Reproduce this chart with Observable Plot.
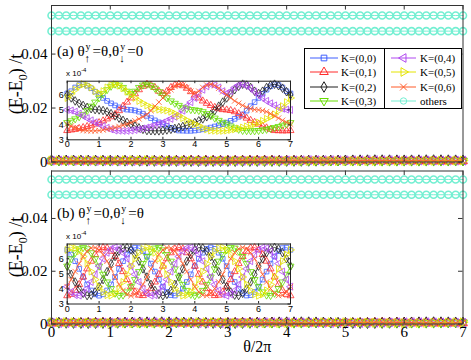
<!DOCTYPE html>
<html><head><meta charset="utf-8">
<script src="https://cdn.jsdelivr.net/npm/d3@7"></script>
<script src="https://cdn.jsdelivr.net/npm/@observablehq/plot@0.6"></script>
<style>
body{margin:0;background:#fff}
#fig{position:relative;width:471px;height:360px;overflow:hidden;font-family:"Liberation Serif",serif;color:#000;background:#fff}
#fig > *{position:absolute}
.st{display:inline-block;position:relative;width:8px;height:0;vertical-align:baseline}
.st .u{position:absolute;left:1px;top:-14px;font-size:10px;line-height:10px}
.st .d{position:absolute;left:0;top:-3px;font-size:11px;line-height:11px}
.ylab{width:120px;height:24px;line-height:24px;text-align:center;font-size:18px;transform:rotate(-90deg);white-space:nowrap}
.ylab sub{font-size:12px}
.sci{font-family:"Liberation Sans",sans-serif;font-size:8px;white-space:nowrap}
.sci sup{font-size:6px}
.ann{font-size:15px;white-space:nowrap;line-height:20px}
.legend{border:1px solid #000;background:#fff;box-sizing:border-box}
.legend .e{position:absolute;font-size:11px;line-height:12px;white-space:nowrap}
</style></head><body><div id="fig"></div>
<script>
// ---------- data ----------
const theta = [0,0.125,0.25,0.375,0.5,0.625,0.75,0.875,1,1.125,1.25,1.375,1.5,1.625,1.75,1.875,2,2.125,2.25,2.375,2.5,2.625,2.75,2.875,3,3.125,3.25,3.375,3.5,3.625,3.75,3.875,4,4.125,4.25,4.375,4.5,4.625,4.75,4.875,5,5.125,5.25,5.375,5.5,5.625,5.75,5.875,6,6.125,6.25,6.375,6.5,6.625,6.75,6.875,7];
const kLabels = ["K=(0,0)","K=(0,1)","K=(0,2)","K=(0,3)","K=(0,4)","K=(0,5)","K=(0,6)"];
const othersLabel = "others";

// panel (a) inset, (E-E0)/t in units of 1e-4
const aK0 = [6.10,6.25,6.50,6.66,6.72,6.62,6.45,6.22, 6.00,5.80,5.60,5.44,5.30,5.17,5.08,5.02,5.00,4.96,4.88,4.75, 4.60,4.45,4.30,4.17,4.05,3.92,3.80,3.70, 3.62,3.61,3.60,3.60,3.62,3.66,3.70,3.76,3.82,3.89,3.97,4.05, 4.15,4.27,4.40,4.54,4.70,4.95,5.25,5.52,5.80,6.08,6.35,6.58, 6.72,6.66,6.50,6.25,6.10];
const aK1 = [3.62,3.66,3.70,3.76,3.82,3.89,3.97,4.05, 4.15,4.27,4.40,4.54,4.70,4.95,5.25,5.52,5.80,6.08,6.35,6.58, 6.72,6.66,6.50,6.25,6.10,6.25,6.50,6.66,6.72,6.62,6.45,6.22, 6.00,5.80,5.60,5.44,5.30,5.17,5.08,5.02,5.00,4.96,4.88,4.75, 4.60,4.45,4.30,4.17,4.05,3.92,3.80,3.70, 3.62,3.61,3.60,3.60,3.62];
const aK2 = [6.00,5.80,5.60,5.44,5.30,5.17,5.08,5.02,5.00,4.96,4.88,4.75, 4.60,4.45,4.30,4.17,4.05,3.92,3.80,3.70, 3.62,3.61,3.60,3.60,3.62,3.66,3.70,3.76,3.82,3.89,3.97,4.05, 4.15,4.27,4.40,4.54,4.70,4.95,5.25,5.52,5.80,6.08,6.35,6.58, 6.72,6.66,6.50,6.25,6.10,6.25,6.50,6.66,6.72,6.62,6.45,6.22, 6.00];
const aK3 = [4.15,4.27,4.40,4.54,4.70,4.95,5.25,5.52,5.80,6.08,6.35,6.58, 6.72,6.66,6.50,6.25,6.10,6.25,6.50,6.66,6.72,6.62,6.45,6.22, 6.00,5.80,5.60,5.44,5.30,5.17,5.08,5.02,5.00,4.96,4.88,4.75, 4.60,4.45,4.30,4.17,4.05,3.92,3.80,3.70, 3.62,3.61,3.60,3.60,3.62,3.66,3.70,3.76,3.82,3.89,3.97,4.05, 4.15];
const aK4 = [5.00,4.96,4.88,4.75, 4.60,4.45,4.30,4.17,4.05,3.92,3.80,3.70, 3.62,3.61,3.60,3.60,3.62,3.66,3.70,3.76,3.82,3.89,3.97,4.05, 4.15,4.27,4.40,4.54,4.70,4.95,5.25,5.52,5.80,6.08,6.35,6.58, 6.72,6.66,6.50,6.25,6.10,6.25,6.50,6.66,6.72,6.62,6.45,6.22, 6.00,5.80,5.60,5.44,5.30,5.17,5.08,5.02,5.00];
const aK5 = [5.80,6.08,6.35,6.58, 6.72,6.66,6.50,6.25,6.10,6.25,6.50,6.66,6.72,6.62,6.45,6.22, 6.00,5.80,5.60,5.44,5.30,5.17,5.08,5.02,5.00,4.96,4.88,4.75, 4.60,4.45,4.30,4.17,4.05,3.92,3.80,3.70, 3.62,3.61,3.60,3.60,3.62,3.66,3.70,3.76,3.82,3.89,3.97,4.05, 4.15,4.27,4.40,4.54,4.70,4.95,5.25,5.52,5.80];
const aK6 = [4.05,3.92,3.80,3.70, 3.62,3.61,3.60,3.60,3.62,3.66,3.70,3.76,3.82,3.89,3.97,4.05, 4.15,4.27,4.40,4.54,4.70,4.95,5.25,5.52,5.80,6.08,6.35,6.58, 6.72,6.66,6.50,6.25,6.10,6.25,6.50,6.66,6.72,6.62,6.45,6.22, 6.00,5.80,5.60,5.44,5.30,5.17,5.08,5.02,5.00,4.96,4.88,4.75, 4.60,4.45,4.30,4.17,4.05];

// panel (b) inset, units of 1e-4
const bK0 = [6.59,6.28,5.84,5.33,4.79,4.30,3.90,3.64, 3.55,3.64,3.90,4.30,4.79,5.33,5.84,6.28, 6.59,6.74,6.71,6.50,6.15,5.68,5.15,4.62, 4.15,3.80,3.59,3.56,3.71,4.02,4.46,4.97, 5.51,6.00,6.40,6.66,6.75,6.66,6.40,6.00, 5.51,4.97,4.46,4.02,3.71,3.56,3.59,3.80, 4.15,4.62,5.15,5.68,6.15,6.50,6.71,6.74, 6.59];
const bK1 = [3.55,3.64,3.90,4.30,4.79,5.33,5.84,6.28, 6.59,6.74,6.71,6.50,6.15,5.68,5.15,4.62, 4.15,3.80,3.59,3.56,3.71,4.02,4.46,4.97, 5.51,6.00,6.40,6.66,6.75,6.66,6.40,6.00, 5.51,4.97,4.46,4.02,3.71,3.56,3.59,3.80, 4.15,4.62,5.15,5.68,6.15,6.50,6.71,6.74, 6.59,6.28,5.84,5.33,4.79,4.30,3.90,3.64, 3.55];
const bK2 = [5.51,4.97,4.46,4.02,3.71,3.56,3.59,3.80, 4.15,4.62,5.15,5.68,6.15,6.50,6.71,6.74, 6.59,6.28,5.84,5.33,4.79,4.30,3.90,3.64, 3.55,3.64,3.90,4.30,4.79,5.33,5.84,6.28, 6.59,6.74,6.71,6.50,6.15,5.68,5.15,4.62, 4.15,3.80,3.59,3.56,3.71,4.02,4.46,4.97, 5.51,6.00,6.40,6.66,6.75,6.66,6.40,6.00, 5.51];
const bK3 = [5.51,6.00,6.40,6.66,6.75,6.66,6.40,6.00, 5.51,4.97,4.46,4.02,3.71,3.56,3.59,3.80, 4.15,4.62,5.15,5.68,6.15,6.50,6.71,6.74, 6.59,6.28,5.84,5.33,4.79,4.30,3.90,3.64, 3.55,3.64,3.90,4.30,4.79,5.33,5.84,6.28, 6.59,6.74,6.71,6.50,6.15,5.68,5.15,4.62, 4.15,3.80,3.59,3.56,3.71,4.02,4.46,4.97, 5.51];
const bK4 = [4.15,3.80,3.59,3.56,3.71,4.02,4.46,4.97, 5.51,6.00,6.40,6.66,6.75,6.66,6.40,6.00, 5.51,4.97,4.46,4.02,3.71,3.56,3.59,3.80, 4.15,4.62,5.15,5.68,6.15,6.50,6.71,6.74, 6.59,6.28,5.84,5.33,4.79,4.30,3.90,3.64, 3.55,3.64,3.90,4.30,4.79,5.33,5.84,6.28, 6.59,6.74,6.71,6.50,6.15,5.68,5.15,4.62, 4.15];
const bK5 = [6.59,6.74,6.71,6.50,6.15,5.68,5.15,4.62, 4.15,3.80,3.59,3.56,3.71,4.02,4.46,4.97, 5.51,6.00,6.40,6.66,6.75,6.66,6.40,6.00, 5.51,4.97,4.46,4.02,3.71,3.56,3.59,3.80, 4.15,4.62,5.15,5.68,6.15,6.50,6.71,6.74, 6.59,6.28,5.84,5.33,4.79,4.30,3.90,3.64, 3.55,3.64,3.90,4.30,4.79,5.33,5.84,6.28, 6.59];
const bK6 = [4.15,4.62,5.15,5.68,6.15,6.50,6.71,6.74, 6.59,6.28,5.84,5.33,4.79,4.30,3.90,3.64, 3.55,3.64,3.90,4.30,4.79,5.33,5.84,6.28, 6.59,6.74,6.71,6.50,6.15,5.68,5.15,4.62, 4.15,3.80,3.59,3.56,3.71,4.02,4.46,4.97, 5.51,6.00,6.40,6.66,6.75,6.66,6.40,6.00, 5.51,4.97,4.46,4.02,3.71,3.56,3.59,3.80, 4.15];

// higher levels ("others")
const othersA = [0.0543, 0.0485];
const othersB = [0.0548, 0.0490];

const xTicks = [0,1,2,3,4,5,6,7];
const mainYTicks = [0, 0.02, 0.04];
const insetYTicks = [3,4,5,6];
const insetUnit = 1e-4;

// ---------- styling ----------
const colors = ["#3f5fff","#ff2a2a","#1e1e1e","#66dd00","#b048f0","#e4e400","#ff5a28"];
const othersColor = "#74efd2";
function tri(angle){return {draw(ctx,size){const R=Math.sqrt(size/1.299);for(let i=0;i<3;i++){const a=angle+i*2*Math.PI/3;const x=R*Math.cos(a),y=R*Math.sin(a);if(i)ctx.lineTo(x,y);else ctx.moveTo(x,y);}ctx.closePath();}};}
const symbols = [d3.symbolSquare, tri(-Math.PI/2), d3.symbolDiamond, tri(Math.PI/2), tri(Math.PI), tri(0), d3.symbolTimes];

const seriesA = [aK0,aK1,aK2,aK3,aK4,aK5,aK6];
const seriesB = [bK0,bK1,bK2,bK3,bK4,bK5,bK6];
[...seriesA,...seriesB].forEach((s,i)=>{ if (s.length!==theta.length) throw new Error("series "+i+" length "+s.length); });

const fig = document.getElementById("fig");
const serif = "Liberation Serif";
const sans = "Liberation Sans";

function ticks(pw, ph, len, yTicks, col){
  return [
    Plot.ruleX(xTicks,{x:d=>d, insetTop:ph-len, stroke:col, strokeWidth:1}),
    Plot.ruleX(xTicks,{x:d=>d, insetBottom:ph-len, stroke:col, strokeWidth:1}),
    Plot.ruleY(yTicks,{y:d=>d, insetRight:pw-len, stroke:col, strokeWidth:1}),
    Plot.ruleY(yTicks,{y:d=>d, insetLeft:pw-len, stroke:col, strokeWidth:1})
  ];
}

function place(el, left, top){ el.style.position="absolute"; el.style.left=left+"px"; el.style.top=top+"px"; fig.appendChild(el); return el; }

function mainPanel(series, others, o){
  const W=471, ml=51, mr=8.5;
  const pw=W-ml-mr, ph=o.height-o.mt-o.mb;
  const marks=[];
  series.forEach((vals,k)=>{
    const data=vals.map((v,i)=>({t:theta[i], e:v*insetUnit}));
    marks.push(Plot.line(data,{x:"t",y:"e",stroke:colors[k],strokeWidth:0.8}));
    marks.push(Plot.dot(data,{x:"t",y:"e",stroke:colors[k],symbol:symbols[k],r:3.3,strokeWidth:0.9,fill:"none"}));
  });
  others.forEach(level=>{
    const data=theta.map(t=>({t, e:level}));
    marks.push(Plot.line(data,{x:"t",y:"e",stroke:othersColor,strokeWidth:1}));
    marks.push(Plot.dot(data,{x:"t",y:"e",stroke:othersColor,symbol:"circle",r:3.5,strokeWidth:1.6,fill:"none"}));
  });
  marks.push(Plot.frame({stroke:"#333",strokeWidth:1}));
  marks.push(...ticks(pw,ph,4.5,mainYTicks,"#333"));
  marks.push(Plot.text(mainYTicks,{y:d=>d,frameAnchor:"left",dx:-4,textAnchor:"end",text:d=>d===0?"0":d.toFixed(2),fontSize:15,fontFamily:serif,fill:"#000"}));
  if (o.xLabels){
    marks.push(Plot.text(xTicks,{x:d=>d,frameAnchor:"bottom",dy:13,text:d=>String(d),fontSize:15,fontFamily:serif,fill:"#000"}));
    marks.push(Plot.text(["θ/2π"],{frameAnchor:"bottom",dy:28,text:d=>d,fontSize:16,fontFamily:serif,fill:"#000"}));
  }
  const svg=Plot.plot({width:W,height:o.height,marginTop:o.mt,marginBottom:o.mb,marginLeft:ml,marginRight:mr,
    x:{domain:[0,7],axis:null}, y:{domain:[0,0.058],axis:null},
    style:{background:"transparent",overflow:"visible"}, marks});
  place(svg,0,o.top);
}

function inset(series, o){
  const W=250, ml=16.7, mr=10;
  const pw=W-ml-mr, ph=o.height-o.mt-o.mb;
  const marks=[Plot.frame({fill:"#fff"})];
  series.forEach((vals,k)=>{
    const data=vals.map((v,i)=>({t:theta[i], e:v}));
    marks.push(Plot.line(data,{x:"t",y:"e",stroke:colors[k],strokeWidth:0.8}));
    marks.push(Plot.dot(data,{x:"t",y:"e",stroke:colors[k],symbol:symbols[k],r:2.6,strokeWidth:0.8,fill:"none"}));
  });
  marks.push(Plot.frame({stroke:"#222",strokeWidth:1}));
  marks.push(...ticks(pw,ph,2.5,insetYTicks,"#222"));
  marks.push(Plot.text(xTicks,{x:d=>d,frameAnchor:"bottom",dy:7.5,text:d=>String(d),fontSize:9,fontFamily:sans,fill:"#000"}));
  marks.push(Plot.text(insetYTicks,{y:d=>d,frameAnchor:"left",dx:-3.5,textAnchor:"end",text:d=>String(d),fontSize:9,fontFamily:sans,fill:"#000"}));
  const svg=Plot.plot({width:W,height:o.height,marginTop:o.mt,marginBottom:o.mb,marginLeft:ml,marginRight:mr,
    x:{domain:[0,7],axis:null}, y:{domain:o.ydomain,axis:null},
    style:{background:"transparent",overflow:"visible"}, marks});
  place(svg,50,o.top);
}

mainPanel(seriesA, othersA, {top:0, height:170, mt:5, mb:8.5, xLabels:false});
mainPanel(seriesB, othersB, {top:165, height:195, mt:5.5, mb:36.5, xLabels:true});
inset(seriesA, {top:64, height:90, mt:16.7, mb:14.7, ydomain:[3,6.92]});
inset(seriesB, {top:227, height:90, mt:16.5, mb:13.5, ydomain:[3,6.98]});

// scale factor labels of insets
function sci(left, top){ const d=document.createElement("div"); d.className="sci"; d.innerHTML="x 10<sup>-4</sup>"; place(d,left,top); }
sci(66,67); sci(66,230);

// y-axis labels
function ylab(cx, cy){ const d=document.createElement("div"); d.className="ylab"; d.innerHTML="(E-E<sub>0</sub>) /t"; place(d,cx-60,cy-12); }
ylab(16,84); ylab(16,247);

// panel annotations
function ann(left, top, html){ const d=document.createElement("div"); d.className="ann"; d.innerHTML=html; place(d,left,top); }
const up='<span class="st"><span class="u">y</span><span class="d">↑</span></span>';
const dn='<span class="st"><span class="u">y</span><span class="d">↓</span></span>';
ann(57,41,'(a) θ'+up+'=θ,θ'+dn+'=0');
ann(57,203,'(b) θ'+up+'=0,θ'+dn+'=θ');

// legend
const lg=document.createElement("div"); lg.className="legend";
lg.style.width="158px"; lg.style.height="61px";
place(lg,304,48);
const div=document.createElement("div"); div.style.cssText="position:absolute;left:79px;top:0;width:1px;height:59px;background:#000"; lg.appendChild(div);
const entries = kLabels.map((lab,k)=>({lab, color:colors[k], sym:symbols[k]})).concat([{lab:othersLabel,color:othersColor,sym:d3.symbolCircle}]);
const order=[0,1,2,3,4,5,6,7];
const colX=[[5,28,36],[86,25,115]];
const rowY=[8.5,23,37.5,52];
order.forEach((idx,j)=>{
  const e=entries[idx]; const c=j<4?0:1; const r=j%4;
  const [lx,lw,tx]=colX[c];
  const ns="http://www.w3.org/2000/svg";
  const s=document.createElementNS(ns,"svg"); s.setAttribute("width",lw); s.setAttribute("height",12);
  s.style.cssText=`position:absolute;left:${lx}px;top:${rowY[r]-6}px;overflow:visible`;
  const ln=document.createElementNS(ns,"line"); ln.setAttribute("x1",0); ln.setAttribute("x2",lw); ln.setAttribute("y1",6); ln.setAttribute("y2",6); ln.setAttribute("stroke",e.color); ln.setAttribute("stroke-width",1); s.appendChild(ln);
  const p=document.createElementNS(ns,"path"); p.setAttribute("d",d3.symbol(e.sym, Math.PI*3.2*3.2)()); p.setAttribute("transform",`translate(${lw/2},6)`); p.setAttribute("fill","none"); p.setAttribute("stroke",e.color); p.setAttribute("stroke-width",1); s.appendChild(p);
  lg.appendChild(s);
  const t=document.createElement("div"); t.className="e"; t.textContent=e.lab; t.style.left=tx+"px"; t.style.top=(rowY[r]-6)+"px"; lg.appendChild(t);
});
</script></body></html>
